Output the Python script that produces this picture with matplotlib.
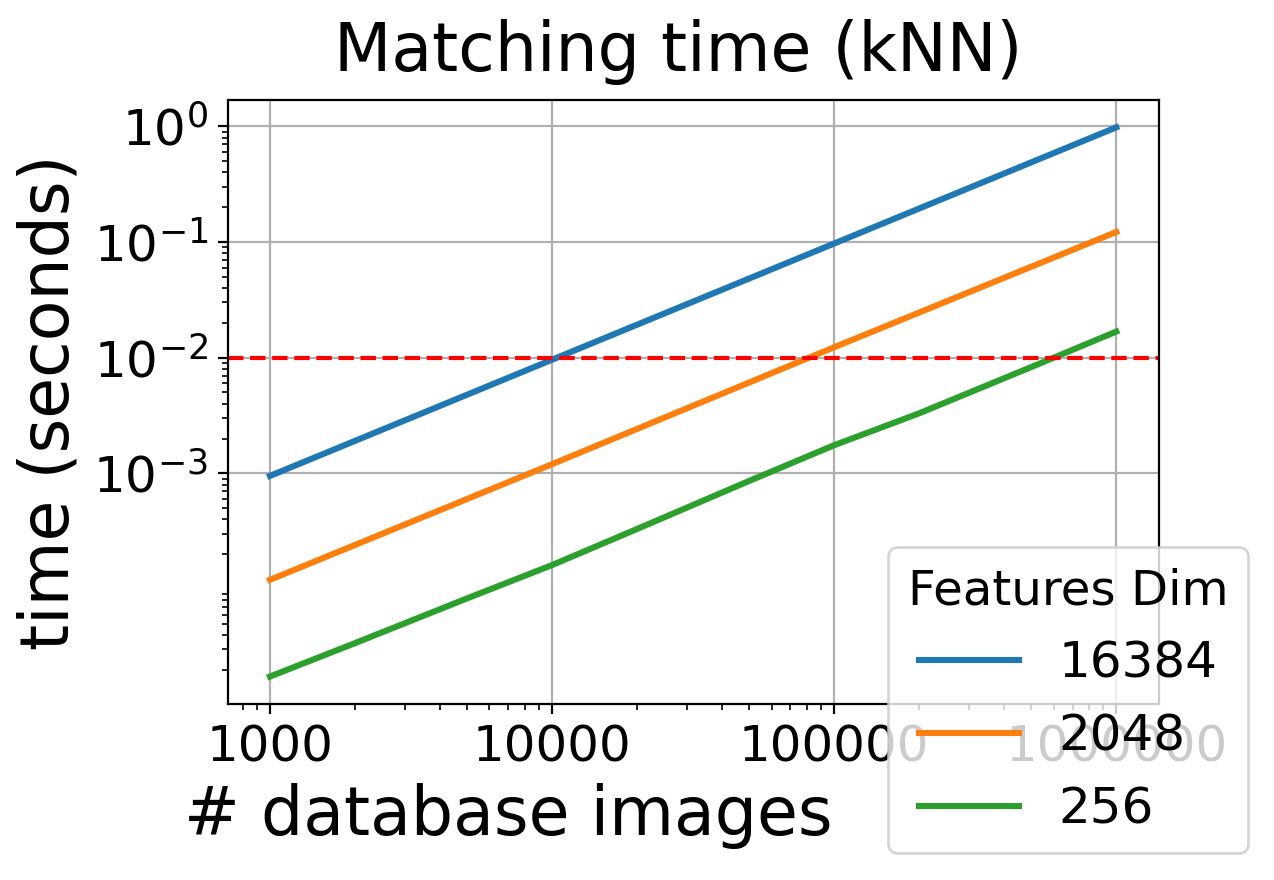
import matplotlib
matplotlib.use("Agg")
import matplotlib.pyplot as plt

# Data
x_blue = [1000, 10000, 100000, 1000000]
t_16384 = [9.5e-4, 9.6e-3, 0.097, 0.98]

x_orange = [1000, 10000, 100000, 1000000]
t_2048 = [1.2e-4, 1.2e-3, 1.23e-2, 0.122]

x_green = [1000, 2000, 5000, 10000, 20000, 50000, 100000, 200000, 500000, 1000000]
t_256 = [1.75e-5, 3.4e-5, 8.3e-5, 1.61e-4, 3.3e-4, 8.6e-4, 1.75e-3, 3.3e-3, 8.3e-3, 1.68e-2]

labels = ["16384", "2048", "256"]
threshold = 0.01

xticks = [1000, 10000, 100000, 1000000]
xtick_labels = ["1000", "10000", "100000", "1000000"]
yticks = [1e0, 1e-1, 1e-2, 1e-3]

fig = plt.figure(figsize=(6.37, 4.4), dpi=200)
ax = fig.add_axes([0.1787, 0.2, 0.7307, 0.6865])

ax.plot(x_blue, t_16384, color="#1f77b4", lw=2.2, label=labels[0])
ax.plot(x_orange, t_2048, color="#ff7f0e", lw=2.2, label=labels[1])
ax.plot(x_green, t_256, color="#2ca02c", lw=2.2, label=labels[2])
ax.axhline(threshold, color="red", ls="--", lw=1.5)

ax.set_xscale("log")
ax.set_yscale("log")
ax.set_xticks(xticks)
ax.set_xticklabels(xtick_labels)
ax.set_yticks(yticks)
ax.tick_params(axis="both", which="major", labelsize=18)
ax.grid(True, which="major")

ax.set_title("Matching time (kNN)", fontsize=24, pad=10.5, x=0.4843)
ax.set_xlabel("# database images", fontsize=24, x=0.302)
ax.set_ylabel("time (seconds)", fontsize=24)

ax.legend(title="Features Dim", fontsize=18, title_fontsize=17.4,
          loc="lower right", bbox_to_anchor=(1.0964, -0.2471), borderaxespad=0)

fig.savefig("out.png", dpi=200)
